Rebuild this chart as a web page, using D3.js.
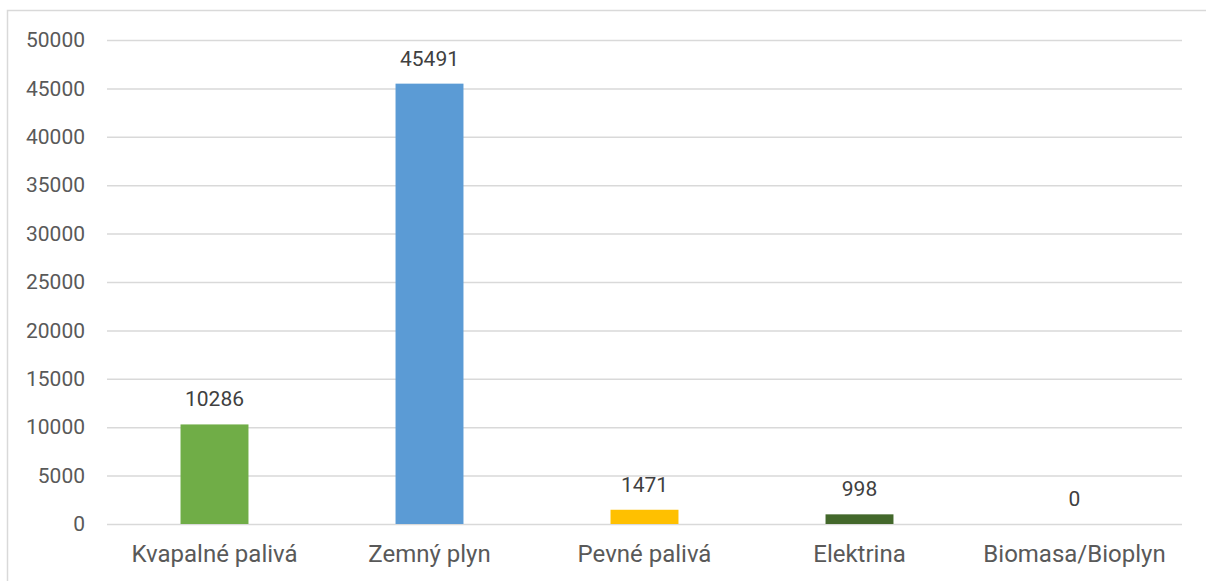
<!DOCTYPE html>
<html>
<head>
<meta charset="utf-8">
<script src="https://cdn.jsdelivr.net/npm/d3@7"></script>
<style>
  body { margin: 0; background: #fff; }
  text { font-family: Roboto, "Noto Sans", sans-serif; }
</style>
</head>
<body>
<div id="chart"></div>
<script>
// data
const categories = ["Kvapalné palivá", "Zemný plyn", "Pevné palivá", "Elektrina", "Biomasa/Bioplyn"];
const values = [10286, 45491, 1471, 998, 0];
const barColors = ["#70AD47", "#5B9BD5", "#FFC000", "#43682B", "#A5A5A5"];
const yTicks = [0, 5000, 10000, 15000, 20000, 25000, 30000, 35000, 40000, 45000, 50000];

const width = 1206, height = 581;
const margin = {top: 40, right: 24, bottom: 57, left: 107};
const innerW = 1182 - margin.left, innerH = 524 - margin.top;

let svg = d3.select("#chart")
    .append("svg")
    .attr("width", width)
    .attr("height", height);

// chart border
svg.append("rect")
    .attr("x", 7.5)
    .attr("y", 10.5)
    .attr("width", width + 10)
    .attr("height", height + 10)
    .attr("fill", "none")
    .attr("stroke", "#D9D9D9")
    .attr("stroke-width", 1.5);

let g = svg.append("g")
    .attr("transform", `translate(${margin.left}, ${margin.top})`);

let x = d3.scaleBand()
    .domain(categories)
    .range([0, innerW])
    .paddingInner(0.684)
    .paddingOuter(0.342);

let y = d3.scaleLinear()
    .domain([0, 50000])
    .range([innerH, 0]);

// gridlines + y labels
let yAxis = g.append("g")
    .call(d3.axisLeft(y).tickValues(yTicks).tickSize(-innerW).tickPadding(22).tickFormat(d3.format("d")));
yAxis.select(".domain").remove();
yAxis.selectAll(".tick line").attr("stroke", "#D9D9D9").attr("stroke-width", 1.5);
yAxis.selectAll(".tick text")
    .attr("fill", "#595959")
    .style("font-size", "21px");

// x labels
let xAxis = g.append("g")
    .attr("transform", `translate(0, ${innerH})`)
    .call(d3.axisBottom(x).tickSize(0).tickPadding(20));
xAxis.select(".domain").remove();
xAxis.selectAll(".tick text")
    .attr("dy", null)
    .attr("y", 38)
    .attr("fill", "#595959")
    .style("font-size", "24px");

// bars
g.selectAll(".bar")
    .data(values)
    .enter().append("rect")
    .attr("class", "bar")
    .attr("x", (d, i) => x(categories[i]))
    .attr("y", d => y(d))
    .attr("width", x.bandwidth())
    .attr("height", d => innerH - y(d))
    .attr("fill", (d, i) => barColors[i]);

// value labels
g.selectAll(".lbl")
    .data(values)
    .enter().append("text")
    .attr("class", "lbl")
    .attr("x", (d, i) => x(categories[i]) + x.bandwidth() / 2)
    .attr("y", d => y(d) - 18)
    .attr("text-anchor", "middle")
    .attr("fill", "#404040")
    .style("font-size", "21px")
    .text(d => d);
</script>
</body>
</html>
